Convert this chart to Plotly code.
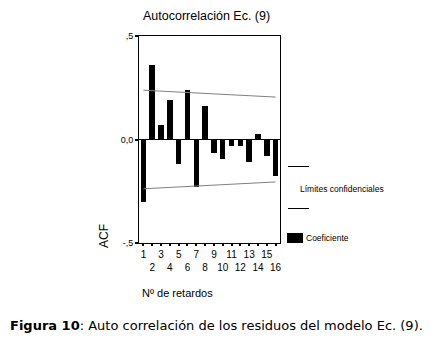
import plotly.graph_objects as go

lags = list(range(1, 17))
acf = [-0.30, 0.36, 0.07, 0.19, -0.12, 0.24, -0.23, 0.16, -0.065, -0.094, -0.03, -0.03, -0.11, 0.027, -0.078, -0.175]
upper_limit = [0.238, 0.236, 0.234, 0.232, 0.230, 0.228, 0.226, 0.224, 0.222, 0.220, 0.218, 0.216, 0.213, 0.211, 0.208, 0.205]
lower_limit = [-v for v in upper_limit]
x_ticktext = [str(l) if l % 2 else "<br>" + str(l) for l in lags]
y_tickvals = [0.5, 0.0, -0.5]
y_ticktext = [",5", "0,0", "-,5"]

OFF = 8  # page body margin
PL, PR, PT, PB = 139, 280, 36, 243
W, H = 431 - OFF, 337 - OFF

def px(x):
    return (x - PL) / (PR - PL)

def py(y):
    return (PB - y) / (PB - PT)

fig = go.Figure()
fig.add_trace(go.Bar(x=lags, y=acf, width=0.62, marker=dict(color="black", line=dict(width=0)), showlegend=False))
fig.add_trace(go.Scatter(x=lags, y=upper_limit, mode="lines", line=dict(color="#808080", width=1), showlegend=False))
fig.add_trace(go.Scatter(x=lags, y=lower_limit, mode="lines", line=dict(color="#808080", width=1), showlegend=False))

font = "Liberation Sans, Arial, sans-serif"
fig.update_layout(
    width=W, height=H,
    margin=dict(l=PL - OFF, r=431 - PR, t=PT - OFF, b=337 - PB, pad=0),
    paper_bgcolor="white", plot_bgcolor="white",
    font=dict(family=font, color="black", size=10),
    xaxis=dict(range=[0.5, 16.5], tickvals=lags, ticktext=x_ticktext, ticks="outside", tickangle=0,
               automargin=False,
               ticklen=2, tickwidth=2, tickcolor="black", showline=True, linecolor="black",
               linewidth=1, mirror=True, showgrid=False, zeroline=False,
               tickfont=dict(size=10, family=font)),
    yaxis=dict(range=[-0.5, 0.5], tickvals=y_tickvals, ticktext=y_ticktext, ticks="outside",
               automargin=False,
               ticklen=3, tickwidth=2, tickcolor="black", showline=True, linecolor="black",
               linewidth=1, mirror=True, showgrid=False, zeroline=True, zerolinecolor="black",
               zerolinewidth=1, tickfont=dict(size=9, family=font)),
    bargap=0,
)

narrow = "Liberation Sans Narrow, Arial Narrow, " + font
annotations = [
    dict(text="Autocorrelación Ec. (9)", x=px(206), y=py(16), font=dict(size=12.5, family=font)),
    dict(text="ACF", x=px(104), y=py(236), textangle=-90, font=dict(size=12, family=font)),
    dict(text="Nº de retardos", x=px(140), y=py(293), xanchor="left", font=dict(size=11, family=font)),
    dict(text="Límites confidenciales", x=px(298), y=py(189), xanchor="left", font=dict(size=8.5, family=narrow)),
    dict(text="Coeficiente", x=px(304), y=py(238), xanchor="left", font=dict(size=8.5, family=narrow)),
    dict(text="<b>Figura 10</b>: Auto correlación de los residuos del modelo Ec. (9).", x=px(8), y=py(325),
         xanchor="left", font=dict(size=13, family="DejaVu Sans, Verdana, sans-serif")),
]
for a in annotations:
    a.update(xref="paper", yref="paper", showarrow=False)
    if "xanchor" not in a:
        a["xanchor"] = "center"
    a["yanchor"] = "middle"
fig.update_layout(annotations=annotations)

shapes = [
    dict(type="line", x0=px(288), x1=px(309), y0=py(166.5), y1=py(166.5), line=dict(color="black", width=1)),
    dict(type="line", x0=px(288), x1=px(309), y0=py(208.5), y1=py(208.5), line=dict(color="black", width=1)),
    dict(type="rect", x0=px(287), x1=px(303), y0=py(233), y1=py(243), fillcolor="black", line=dict(width=0)),
]
for s in shapes:
    s.update(xref="paper", yref="paper")
fig.update_layout(shapes=shapes)

fig.write_html("out.html")
